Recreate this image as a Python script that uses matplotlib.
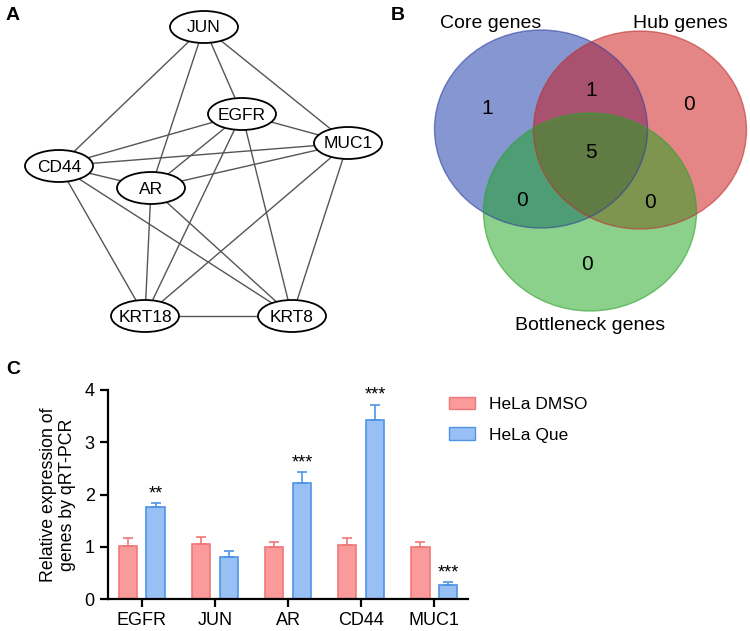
import numpy as np
import matplotlib
matplotlib.use('Agg')
from matplotlib import pyplot as plt
from matplotlib.patches import Ellipse, Patch

plt.rcParams['font.family'] = ['Liberation Sans', 'DejaVu Sans']

# network (panel A)
nodes = ['JUN', 'EGFR', 'MUC1', 'CD44', 'AR', 'KRT18', 'KRT8']
edges = [('JUN', 'CD44'), ('JUN', 'AR'), ('JUN', 'EGFR'), ('JUN', 'MUC1'),
         ('EGFR', 'CD44'), ('EGFR', 'AR'), ('EGFR', 'MUC1'), ('EGFR', 'KRT18'), ('EGFR', 'KRT8'),
         ('MUC1', 'CD44'), ('MUC1', 'AR'), ('MUC1', 'KRT18'), ('MUC1', 'KRT8'),
         ('CD44', 'AR'), ('CD44', 'KRT18'), ('CD44', 'KRT8'),
         ('AR', 'KRT18'), ('AR', 'KRT8'), ('KRT18', 'KRT8')]

# venn (panel B)
set_names = ['Core genes', 'Hub genes', 'Bottleneck genes']
venn_counts = {'100': 1, '010': 0, '001': 0, '110': 1, '101': 0, '011': 0, '111': 5}

# qRT-PCR (panel C)
genes = ['EGFR', 'JUN', 'AR', 'CD44', 'MUC1']
dmso_mean = [1.02, 1.05, 1.00, 1.03, 1.00]
dmso_err = [0.15, 0.13, 0.10, 0.14, 0.09]
que_mean = [1.76, 0.80, 2.22, 3.42, 0.27]
que_err = [0.07, 0.12, 0.21, 0.30, 0.05]
signif = ['**', '', '***', '***', '***']

fig = plt.figure(figsize=(7.5, 6.31), dpi=100)

# pixel-space canvas for panels A and B
canvas = fig.add_axes([0, 0, 1, 1])
canvas.set_xlim(0, 750)
canvas.set_ylim(631, 0)
canvas.axis('off')

# layout of the network, in pixels
pos = {'JUN': (204, 27), 'EGFR': (242, 114), 'MUC1': (348, 143), 'CD44': (59, 166),
       'AR': (151, 188), 'KRT18': (145, 316), 'KRT8': (292, 316)}

for a, b in edges:
    xa, ya = pos[a]
    xb, yb = pos[b]
    canvas.plot([xa, xb], [ya, yb], color='#555555', lw=1.0, zorder=1)
for n in nodes:
    x, y = pos[n]
    canvas.add_patch(Ellipse((x, y), 68, 32, facecolor='white', edgecolor='black', lw=1.3, zorder=2))
    canvas.text(x, y + 1, n, ha='center', va='center', fontsize=12.5, zorder=3)

# venn circles
centers = [(541, 129), (640, 130), (590, 212)]
fills = ['#0d2fa5', '#cd0f0f', '#19a519']
edgecols = ['#3040a0', '#c03030', '#30a030']
for (cx, cy), fc, ec in zip(centers, fills, edgecols):
    canvas.add_patch(Ellipse((cx, cy), 213, 198, facecolor=fc, alpha=0.5, edgecolor='none', zorder=1))
    canvas.add_patch(Ellipse((cx, cy), 213, 198, facecolor='none', edgecolor=ec, alpha=0.6, lw=1.0, zorder=2))

count_pos = {'100': (487, 108), '010': (689, 105), '001': (587, 264), '110': (591, 91),
             '101': (522, 200), '011': (650, 202), '111': (591, 153)}
for key, value in venn_counts.items():
    x, y = count_pos[key]
    canvas.text(x, y, str(value), ha='center', va='center', fontsize=15, zorder=3)

canvas.text(491, 23, set_names[0], ha='center', va='center', fontsize=14)
canvas.text(680, 23, set_names[1], ha='center', va='center', fontsize=14)
canvas.text(590, 325, set_names[2], ha='center', va='center', fontsize=14)

# panel letters
canvas.text(6, 16, 'A', fontsize=14, fontweight='bold', va='center')
canvas.text(391, 16, 'B', fontsize=14, fontweight='bold', va='center')
canvas.text(6, 370, 'C', fontsize=14, fontweight='bold', va='center')

# bar chart
ax = fig.add_axes([108 / 750, 32 / 631, 360 / 750, 209 / 631])
x = np.arange(len(genes))
w = 0.25
off = 0.19
pink_fc, pink_ec = '#fa9a9a', '#f07878'
blue_fc, blue_ec = '#98c0f5', '#4f95e6'
ax.bar(x - off, dmso_mean, w, color=pink_fc, edgecolor=pink_ec, lw=1.2,
       yerr=[np.zeros(len(genes)), dmso_err], ecolor=pink_ec,
       error_kw=dict(capsize=3.5, elinewidth=1.2, capthick=1.2), label='HeLa DMSO')
ax.bar(x + off, que_mean, w, color=blue_fc, edgecolor=blue_ec, lw=1.2,
       yerr=[np.zeros(len(genes)), que_err], ecolor=blue_ec,
       error_kw=dict(capsize=3.5, elinewidth=1.2, capthick=1.2), label='HeLa Que')

for i, s in enumerate(signif):
    if s:
        ax.text(x[i] + off, que_mean[i] + que_err[i] + 0.02, s, ha='center', va='bottom', fontsize=13)

ax.set_xlim(-0.46, 4.46)
ax.set_ylim(0, 4)
ax.set_yticks([0, 1, 2, 3, 4])
ax.set_xticks(x)
ax.set_xticklabels(genes)
ax.spines['top'].set_visible(False)
ax.spines['right'].set_visible(False)
ax.spines['left'].set_linewidth(1.6)
ax.spines['bottom'].set_linewidth(1.6)
ax.tick_params(axis='both', labelsize=13, width=1.6, length=6)
ax.set_ylabel('Relative expression of\ngenes by qRT-PCR', fontsize=12.8, labelpad=6)

handles = [Patch(facecolor=pink_fc, edgecolor=pink_ec), Patch(facecolor=blue_fc, edgecolor=blue_ec)]
fig.legend(handles, ['HeLa DMSO', 'HeLa Que'], loc='upper left', bbox_to_anchor=(433 / 750, 1 - 381 / 631),
           frameon=False, fontsize=12.5, handlelength=1.5, handleheight=0.7, handletextpad=0.8,
           labelspacing=0.9)

fig.savefig('out.png', dpi=100)
